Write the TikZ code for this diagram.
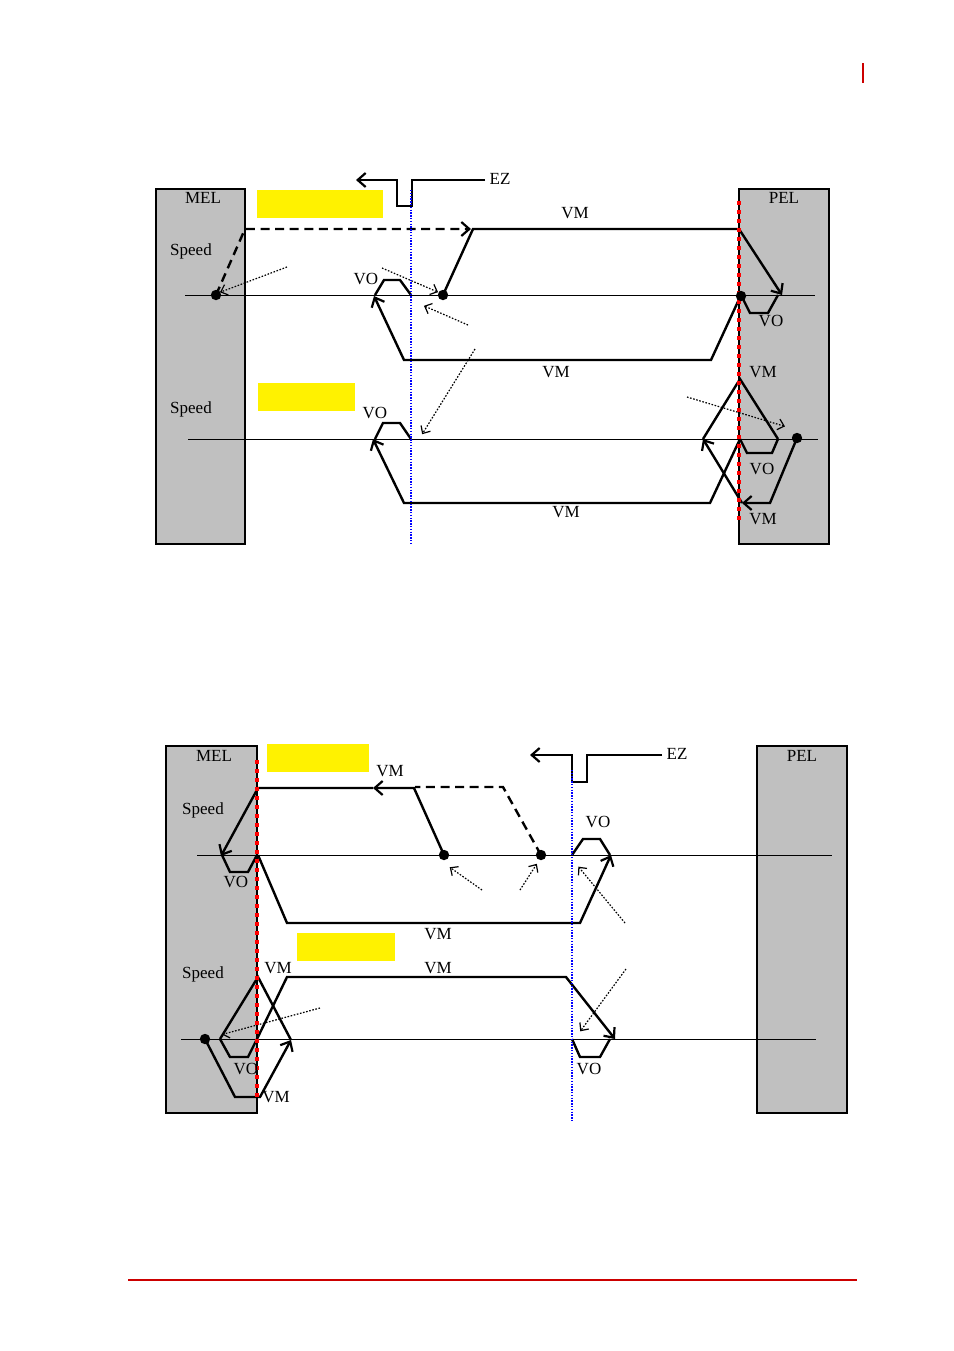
\documentclass[tikz,border=0pt]{standalone}
\usepackage{fontspec}
\setmainfont{Liberation Serif}
\usetikzlibrary{arrows.meta}
\definecolor{limgray}{HTML}{C0C0C0}
\definecolor{pagered}{HTML}{CC0000}
\definecolor{ezblue}{HTML}{0000FF}

\begin{document}
\begin{tikzpicture}[
  x=0.5pt, y=-0.5pt,
  font=\fontsize{8.5}{10}\selectfont,
  limit/.style  = {draw=black, fill=limgray, line width=0.6pt},
  blank/.style  = {fill=yellow},
  axis/.style   = {line width=0.5pt},
  move/.style   = {line width=1.2pt, line join=miter},
  tip/.style    = {-{Straight Barb[length=4pt, width=7pt, line width=1.1pt]}},
  pointer/.style= {line width=0.6pt, dash pattern=on 0.8pt off 0.8pt,
                   -{Straight Barb[length=3pt, width=5.5pt, line width=0.6pt, sep]}},
  ezline/.style = {draw=ezblue, line width=0.8pt, dash pattern=on 0.7pt off 0.7pt},
  elsq/.style   = {fill=red},
  dot/.style    = {fill=black},
  lbl/.style    = {inner sep=0pt, anchor=center},
]
\useasboundingbox (0,0) rectangle (954,1351);

% ---------- page marks -----------------------------------------------------------------
\draw[draw=pagered, line width=1pt] (863,63) -- (863,83);
\draw[draw=pagered, line width=1pt] (128,1280) -- (857,1280);

% ---------- panel A : limit switches, EZ, two speed profiles --------------------------------
\filldraw[limit] (156,189) rectangle (245,544);
\filldraw[limit] (739,189) rectangle (829,544);
\fill[blank] (257,190) rectangle (383,218);
\fill[blank] (258,383) rectangle (355,411);
\node[lbl] (amel) at (203,198) {MEL};
\node[lbl] (apel) at (784,198) {PEL};
\node[lbl] (asp1) at (191,251) {Speed};
\node[lbl] (asp2) at (191,409) {Speed};
\node[lbl] (aez)  at (500,179) {EZ};

% EZ pulse
\draw[line width=1.1pt, tip] (485,180) -- (412,180) -- (412,206) -- (397,206) -- (397,180) -- (356,180);

\draw[axis] (185,295) -- (815,295);
\draw[axis] (188,439) -- (818,439);

% first profile
\draw[move, dashed, dash pattern=on 4.5pt off 2.8pt, tip] (216,295) -- (245,229) -- (471,229);
\draw[move, tip] (443,295) -- (473,229) -- (739,229) -- (782,295);
\draw[move] (741,295) -- (750,313) -- (768,313) -- (778,295);
\draw[move, tip] (741,295) -- (711,360) -- (404,360) -- (374,296);
\draw[move] (375,295) -- (384,280) -- (400,280) -- (411,295);

% second profile
\draw[move, tip] (797,438) -- (770,503) -- (742,503);
\draw[move, tip] (742,503) -- (703,439);
\draw[move] (703,439) -- (740,379) -- (778,439);
\draw[move] (740,439) -- (747,453) -- (772,453) -- (778,439);
\draw[move, tip] (740,439) -- (710,503) -- (404,503) -- (373,439);
\draw[move] (375,439) -- (383,423) -- (400,423) -- (411,439);

\draw[pointer] (287,267) -- (218,293);
\draw[pointer] (382,268) -- (440,293);
\draw[pointer] (468,325) -- (422,305);
\draw[pointer] (475,349) -- (421,436);
\draw[pointer] (687,397) -- (787,427);

\draw[ezline] (411,190) -- (411,544);
\foreach \y in {201,210,...,522}
  \fill[elsq] (737,\y) rectangle ++(4,4);

\fill[dot] (216,295) circle (2.6pt);
\fill[dot] (443,295) circle (2.6pt);
\fill[dot] (741,296) circle (2.6pt);
\fill[dot] (797,438) circle (2.6pt);

\node[lbl] (avm1) at (575,213) {VM};
\node[lbl] (avo1) at (366,279) {VO};
\node[lbl] (avo2) at (771,321) {VO};
\node[lbl] (avm2) at (556,372) {VM};
\node[lbl] (avm3) at (763,372) {VM};
\node[lbl] (avo3) at (375,413) {VO};
\node[lbl] (avo4) at (762,469) {VO};
\node[lbl] (avm4) at (566,512) {VM};
\node[lbl] (avm5) at (763,519) {VM};

% ---------- panel B : same, seen from the MEL side -----------------------------------------
\filldraw[limit] (166,746) rectangle (257,1113);
\filldraw[limit] (757,746) rectangle (847,1113);
\fill[blank] (267,744) rectangle (369,772);
\fill[blank] (297,933) rectangle (395,961);
\node[lbl] (bmel) at (214,756) {MEL};
\node[lbl] (bpel) at (802,756) {PEL};
\node[lbl] (bsp1) at (203,810) {Speed};
\node[lbl] (bsp2) at (203,974) {Speed};
\node[lbl] (bez)  at (677,754) {EZ};

% EZ pulse
\draw[line width=1.1pt, tip] (662,755) -- (587,755) -- (587,782) -- (572,782) -- (572,755) -- (530,755);

\draw[axis] (197,855) -- (832,855);
\draw[axis] (181,1039) -- (816,1039);

% first profile
\draw[move, dashed, dash pattern=on 4.5pt off 2.8pt] (541,855) -- (503,787) -- (415,787);
\draw[move, tip] (444,855) -- (414,788) -- (373,788);
\draw[move, tip] (373,788) -- (258,788) -- (221,856);
\draw[move] (222,855) -- (230,872) -- (248,872) -- (257,855);
\draw[move, tip] (258,855) -- (287,923) -- (580,923) -- (611,855);
\draw[move] (572,855) -- (583,839) -- (600,839) -- (610,855);

% second profile
\draw[move, tip] (205,1039) -- (235,1097) -- (260,1097) -- (291,1040);
\draw[move] (291,1040) -- (258,977) -- (220,1039);
\draw[move] (220,1039) -- (230,1057) -- (248,1057) -- (257,1039);
\draw[move, tip] (257,1039) -- (287,977) -- (566,977) -- (615,1039);
\draw[move] (572,1039) -- (580,1057) -- (600,1057) -- (610,1039);

\draw[pointer] (482,890) -- (448,866);
\draw[pointer] (520,890) -- (538,862);
\draw[pointer] (625,923) -- (577,865);
\draw[pointer] (320,1008) -- (220,1035);
\draw[pointer] (626,969) -- (579,1033);

\draw[ezline] (572,770) -- (572,1122);
\foreach \y in {760,769,...,1096}
  \fill[elsq] (255,\y) rectangle ++(4,4);

\fill[dot] (444,855) circle (2.6pt);
\fill[dot] (541,855) circle (2.6pt);
\fill[dot] (205,1039) circle (2.6pt);

\node[lbl] (bvm1) at (390,771) {VM};
\node[lbl] (bvo1) at (598,822) {VO};
\node[lbl] (bvo2) at (236,882) {VO};
\node[lbl] (bvm2) at (438,934) {VM};
\node[lbl] (bvm3) at (278,968) {VM};
\node[lbl] (bvm4) at (438,968) {VM};
\node[lbl] (bvo3) at (246,1069) {VO};
\node[lbl] (bvo4) at (589,1069) {VO};
\node[lbl] (bvm5) at (276,1097) {VM};

\end{tikzpicture}
\end{document}
